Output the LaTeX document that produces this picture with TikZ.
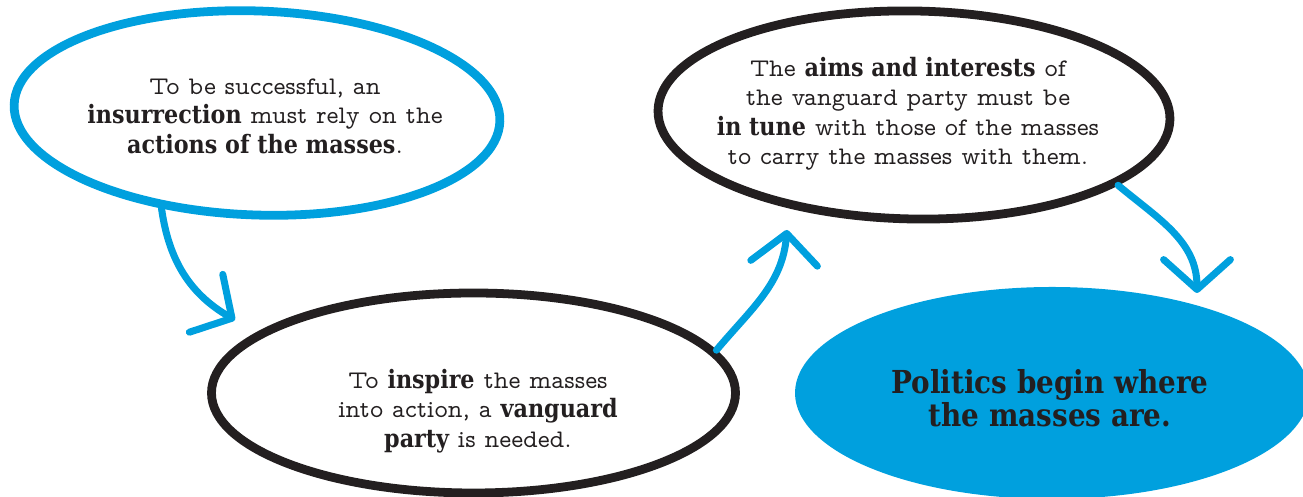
\documentclass[tikz,border=0pt]{standalone}
\usepackage{fontspec}
\usepackage{tikz}
\usetikzlibrary{shapes.geometric,arrows.meta}
\definecolor{mblue}{RGB}{0,160,222}
\definecolor{inkblack}{RGB}{35,31,32}
\newfontfamily\slabfont{DejaVu Serif}[FakeStretch=0.88]
\newcommand{\hl}[1]{{\slabfont\bfseries #1}}
\newcommand{\lightslab}{\fontsize{14.4}{16.8}\fontfamily{lmvtt}\fontseries{m}\selectfont}

\begin{document}
\begin{tikzpicture}[
    bubble/.style={ellipse, inner sep=0pt, line width=5pt},
    txt/.style={align=center, text=inkblack, font=\lightslab},
    flow/.style={mblue, line width=4pt, line cap=round,
      -{Straight Barb[length=17pt, width=38pt, round]}}]
  \useasboundingbox (0,0) rectangle (26.06,9.94);
  \clip (0,0) rectangle (26.06,9.94);
  \node[bubble, draw=mblue, minimum width=9.72cm, minimum height=4.08cm, rotate=-2] (insurr) at (5.14,7.68) {};
  \node[bubble, draw=inkblack, minimum width=10.48cm, minimum height=4.0cm] (inspire) at (9.47,2.08) {};
  \node[bubble, draw=inkblack, minimum width=10.24cm, minimum height=4.16cm, rotate=-1] (tune) at (18.28,7.64) {};
  \node[bubble, fill=mblue, minimum width=10.28cm, minimum height=4.24cm] (politics) at (21.04,2.08) {};
  \node[txt] (insurrtxt) at (5.30,7.62) {To be successful, an\\\hl{insurrection} must rely on the\\\hl{actions of the masses}.};
  \node[txt] (inspiretxt) at (9.56,1.72) {To \hl{inspire} the masses\\into action, a \hl{vanguard}\\\hl{party} is needed.};
  \node[txt] (tunetxt) at (18.16,7.66) {The \hl{aims and interests} of\\the vanguard party must be\\\hl{in tune} with those of the masses\\to carry the masses with them.};
  \node[txt, font=\fontsize{18}{19}\slabfont\bfseries] (politicstxt) at (21.0,1.98) {Politics begin where\\the masses are.};
  \coordinate (tipA) at (4.70,3.54);
  \coordinate (tipB) at (15.74,5.34);
  \coordinate (tipC) at (23.94,4.08);
  \draw[flow] (insurr.-133) to[out=-82, in=150] (tipA);
  \draw[flow] (inspire.10) to[out=50, in=-95] (tipB);
  \draw[flow] (tune.-18) to[out=-40, in=90] (tipC);
\end{tikzpicture}
\end{document}
